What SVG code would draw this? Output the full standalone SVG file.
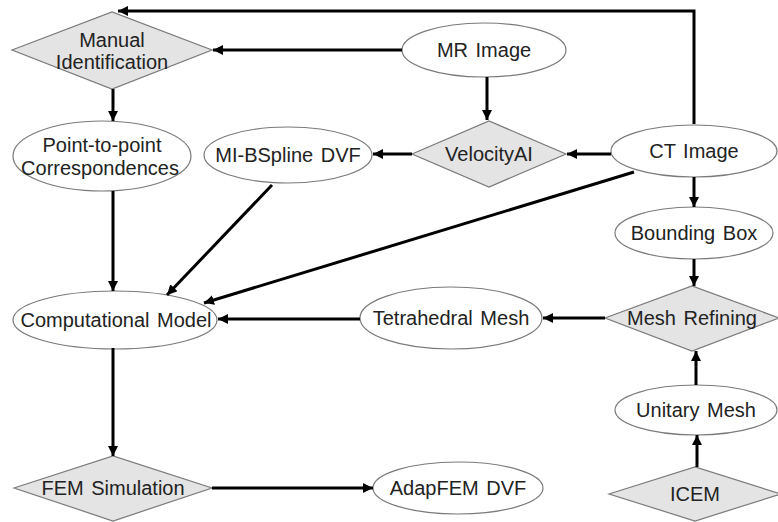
<svg xmlns="http://www.w3.org/2000/svg" width="778" height="522" viewBox="0 0 778 522">
<style>
.e{fill:#fff;stroke:#7a7a7a;stroke-width:1.2}
.d{fill:#e4e4e4;stroke:#7a7a7a;stroke-width:1.2}
.t{font-family:"Liberation Sans",Arial,sans-serif;font-size:20px;word-spacing:2px;fill:#222;text-anchor:middle}
.c path{fill:none;stroke:#000;stroke-width:3;marker-end:url(#ah)}
</style>
<defs>
<marker id="ah" markerUnits="userSpaceOnUse" markerWidth="11" markerHeight="10" refX="10" refY="5" orient="auto">
<path d="M0,0 L10,5 L0,10 z" fill="#000"/>
</marker>
</defs>
<rect width="778" height="522" fill="#fff"/>
<g id="n-manual"><polygon class="d" points="12,50 112,12 212,50 112,89"/><text class="t" x="112" y="47">Manual</text><text class="t" x="112" y="69">Identification</text></g>
<g id="n-mr"><ellipse class="e" cx="484" cy="50" rx="82" ry="27"/><text class="t" x="484" y="57">MR Image</text></g>
<g id="n-vel"><polygon class="d" points="412,154 489,121 566,154 489,187"/><text class="t" x="489" y="161">VelocityAI</text></g>
<g id="n-ct"><ellipse class="e" cx="694" cy="151" rx="83" ry="26"/><text class="t" x="694" y="158">CT Image</text></g>
<g id="n-mib"><ellipse class="e" cx="288" cy="155" rx="84" ry="28"/><text class="t" x="288" y="162">MI-BSpline DVF</text></g>
<g id="n-p2p"><ellipse class="e" cx="102" cy="156" rx="89" ry="35"/><text class="t" x="102" y="152">Point-to-point</text><text class="t" x="100" y="175">Correspondences</text></g>
<g id="n-comp"><ellipse class="e" cx="115" cy="320" rx="102" ry="29"/><text class="t" x="116" y="327">Computational Model</text></g>
<g id="n-tet"><ellipse class="e" cx="451" cy="318" rx="91" ry="31"/><text class="t" x="451" y="325">Tetrahedral Mesh</text></g>
<g id="n-mref"><polygon class="d" points="605,318 692,286 779,318 692,351"/><text class="t" x="692" y="325">Mesh Refining</text></g>
<g id="n-bb"><ellipse class="e" cx="694" cy="233" rx="79" ry="26"/><text class="t" x="694" y="240">Bounding Box</text></g>
<g id="n-uni"><ellipse class="e" cx="696" cy="410" rx="81" ry="25"/><text class="t" x="696" y="417">Unitary Mesh</text></g>
<g id="n-icem"><polygon class="d" points="609,494 695,467 781,494 695,521"/><text class="t" x="695" y="501">ICEM</text></g>
<g id="n-fem"><polygon class="d" points="14,488 113,456 212,488 113,521"/><text class="t" x="113" y="495">FEM Simulation</text></g>
<g id="n-adap"><ellipse class="e" cx="458" cy="488" rx="85" ry="26"/><text class="t" x="458" y="495">AdapFEM DVF</text></g>
<g class="c" id="connectors">
<path d="M694,124 L694,11 L118,11"/>
<path d="M402,50 L213,50"/>
<path d="M487,77 L487,120"/>
<path d="M611,154 L567,154"/>
<path d="M412,154 L373,154"/>
<path d="M113,89 L113,121"/>
<path d="M113,191 L113,291"/>
<path d="M272,185 L167,295"/>
<path d="M634,172 L204,303"/>
<path d="M360,319 L218,319"/>
<path d="M605,318 L543,318"/>
<path d="M694,177 L694,207"/>
<path d="M694,259 L694,286"/>
<path d="M696,385 L696,351"/>
<path d="M697,467 L697,435"/>
<path d="M113,348 L113,456"/>
<path d="M212,488 L373,488"/>
</g>
</svg>
